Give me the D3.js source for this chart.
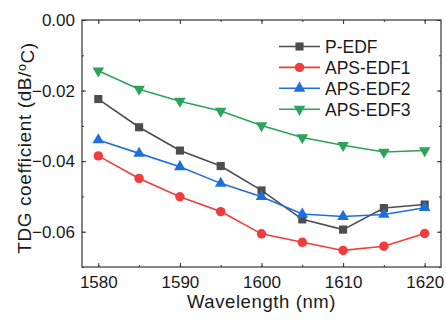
<!DOCTYPE html>
<html>
<head>
<meta charset="utf-8">
<script src="https://cdn.jsdelivr.net/npm/d3@7"></script>
<style>
  body { margin: 0; background: #fff; }
  text { font-family: Arial, "Liberation Sans", sans-serif; fill: #1a1a1a; }
</style>
</head>
<body>
<script>
// data
const wavelengths = [1580, 1585, 1590, 1595, 1600, 1605, 1610, 1615, 1620];
const pEdf    = [-0.0224, -0.0304, -0.0370, -0.0414, -0.0483, -0.0565, -0.0594, -0.0533, -0.0523];
const apsEdf1 = [-0.0385, -0.0449, -0.0501, -0.0543, -0.0606, -0.0630, -0.0653, -0.0641, -0.0605];
const apsEdf2 = [-0.0340, -0.0378, -0.0416, -0.0463, -0.0501, -0.0550, -0.0557, -0.0551, -0.0532];
const apsEdf3 = [-0.0144, -0.0196, -0.0230, -0.0258, -0.0299, -0.0333, -0.0355, -0.0374, -0.0370];
const seriesNames = ['P-EDF', 'APS-EDF1', 'APS-EDF2', 'APS-EDF3'];
const xTicks = [1580, 1590, 1600, 1610, 1620];
const yTicks = [0, -0.02, -0.04, -0.06];

let svgWidth = 446;
let svgHeight = 322;
let margins = { top: 20, right: 5, bottom: 55, left: 82 };
let chartWidth = svgWidth - margins.left - margins.right;
let chartHeight = svgHeight - margins.top - margins.bottom;

let series = [
  { name: seriesNames[0], values: pEdf,    color: '#4d4d4d', symbol: d3.symbolSquare,   size: 66, rot: 0 },
  { name: seriesNames[1], values: apsEdf1, color: '#f03c3c', symbol: d3.symbolCircle,   size: 70, rot: 0 },
  { name: seriesNames[2], values: apsEdf2, color: '#1e6fdc', symbol: d3.symbolTriangle, size: 58, rot: 0 },
  { name: seriesNames[3], values: apsEdf3, color: '#2ca35a', symbol: d3.symbolTriangle, size: 58, rot: 180 }
];

let svg = d3.select('body').append('svg')
  .attr('width', svgWidth)
  .attr('height', svgHeight);

let chart = svg.append('g')
  .attr('transform', `translate(${margins.left}, ${margins.top})`);

let x = d3.scaleLinear().domain([1578, 1622]).range([0, chartWidth]);
let y = d3.scaleLinear().domain([-0.07, 0]).range([chartHeight, 0]);

let minorX = d3.range(1580, 1621, 5);
let minorY = d3.range(0, -0.0701, -0.01);

function styleAxis(g) {
  g.select('.domain').remove();
  g.attr('font-size', null).attr('font-family', null);
  g.selectAll('line').attr('stroke', '#333').attr('stroke-width', 1);
  g.selectAll('text').style('font-size', '17px').style('fill', '#1a1a1a');
}

// bottom axis, ticks inward
chart.append('g')
  .attr('transform', `translate(0, ${chartHeight})`)
  .call(d3.axisBottom(x).tickValues(minorX).tickSize(-2).tickFormat(''))
  .call(styleAxis);
chart.append('g')
  .attr('transform', `translate(0, ${chartHeight})`)
  .call(d3.axisBottom(x).tickValues(xTicks).tickSize(-4).tickPadding(9).tickFormat(d3.format('d')))
  .call(styleAxis);
// top mirror
chart.append('g')
  .call(d3.axisTop(x).tickValues(minorX).tickSize(-2).tickFormat(''))
  .call(styleAxis);
chart.append('g')
  .call(d3.axisTop(x).tickValues(xTicks).tickSize(-4).tickFormat(''))
  .call(styleAxis);
// left axis
chart.append('g')
  .call(d3.axisLeft(y).tickValues(minorY).tickSize(-2).tickFormat(''))
  .call(styleAxis);
chart.append('g')
  .call(d3.axisLeft(y).tickValues(yTicks).tickSize(-4).tickPadding(7).tickFormat(d3.format('.2f')))
  .call(styleAxis);
// right mirror
chart.append('g')
  .attr('transform', `translate(${chartWidth}, 0)`)
  .call(d3.axisRight(y).tickValues(minorY).tickSize(-2).tickFormat(''))
  .call(styleAxis);
chart.append('g')
  .attr('transform', `translate(${chartWidth}, 0)`)
  .call(d3.axisRight(y).tickValues(yTicks).tickSize(-4).tickFormat(''))
  .call(styleAxis);

chart.append('rect')
  .attr('width', chartWidth)
  .attr('height', chartHeight)
  .attr('fill', 'none')
  .attr('stroke', '#333')
  .attr('stroke-width', 1.2);

let line = d3.line()
  .x((d, i) => x(wavelengths[i]))
  .y(d => y(d));

series.forEach(function (s) {
  chart.append('path')
    .datum(s.values)
    .attr('d', line)
    .attr('fill', 'none')
    .attr('stroke', s.color)
    .attr('stroke-width', 1.6);

  chart.selectAll(null)
    .data(s.values)
    .enter()
    .append('path')
    .attr('d', d3.symbol().type(s.symbol).size(s.size))
    .attr('transform', (d, i) => `translate(${x(wavelengths[i])}, ${y(d)}) rotate(${s.rot})`)
    .attr('fill', s.color);
});

// legend
let legend = chart.append('g')
  .attr('transform', `translate(${279 - margins.left}, ${46.5 - margins.top})`);

series.forEach(function (s, i) {
  let row = legend.append('g').attr('transform', `translate(0, ${i * 20.9})`);
  row.append('line')
    .attr('x1', 0).attr('x2', 41)
    .attr('stroke', s.color)
    .attr('stroke-width', 1.6);
  row.append('path')
    .attr('d', d3.symbol().type(s.symbol).size(s.size))
    .attr('transform', `translate(20.5, 0) rotate(${s.rot})`)
    .attr('fill', s.color);
  row.append('text')
    .attr('x', 46)
    .attr('dy', '0.36em')
    .style('font-size', '17.5px')
    .text(s.name);
});

// axis titles
chart.append('text')
  .attr('x', chartWidth / 2)
  .attr('y', chartHeight + 41)
  .attr('text-anchor', 'middle')
  .style('font-size', '18.5px')
  .style('letter-spacing', '0.6px')
  .text('Wavelength (nm)');

let yTitle = chart.append('text')
  .attr('transform', `translate(${31 - margins.left}, ${148 - margins.top}) rotate(-90)`)
  .attr('text-anchor', 'middle')
  .style('font-size', '19px')
  .style('letter-spacing', '0.6px');
yTitle.append('tspan').text('TDG coefficient (dB/');
yTitle.append('tspan').attr('dy', '-0.4em').style('font-size', '12.5px').text('o');
yTitle.append('tspan').attr('dy', '0.4em').text('C)');
</script>
</body>
</html>
